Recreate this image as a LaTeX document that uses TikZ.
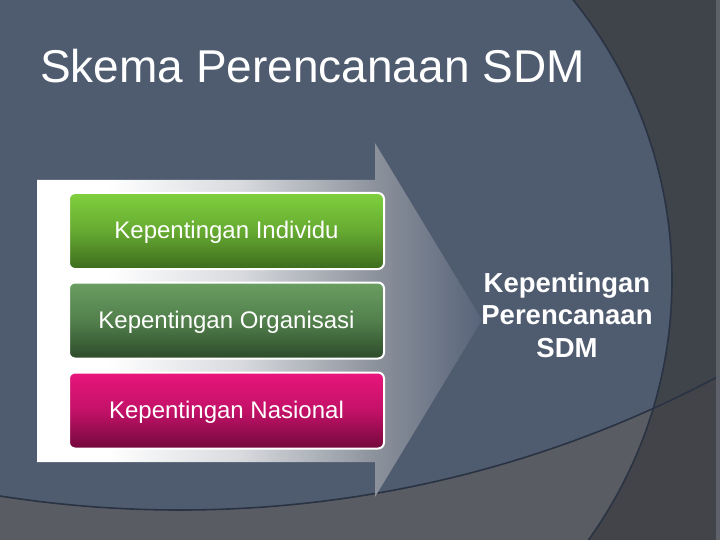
\documentclass[tikz,border=0pt]{standalone}
\usepackage{fontspec}
\setmainfont{Liberation Sans}
\definecolor{slate}{HTML}{4F5B6F}
\definecolor{darktop}{HTML}{3F434A}
\definecolor{darkbot}{HTML}{424449}
\definecolor{graybot}{HTML}{595C62}
\definecolor{edgeline}{HTML}{2A3344}
\definecolor{edgestrip}{HTML}{5E6169}
\definecolor{alight}{HTML}{D8DADE}
\definecolor{agray}{HTML}{8C929C}
\definecolor{atip}{HTML}{58647A}
\definecolor{g1top}{HTML}{7FD03E}
\definecolor{g1mid}{HTML}{66AA31}
\definecolor{g1bot}{HTML}{3D6B1E}
\definecolor{g2top}{HTML}{6A9E62}
\definecolor{g2mid}{HTML}{52804C}
\definecolor{g2bot}{HTML}{2D4A2A}
\definecolor{m3top}{HTML}{E8167B}
\definecolor{m3mid}{HTML}{C31168}
\definecolor{m3bot}{HTML}{72093B}
\pgfdeclarehorizontalshading{arrowshade}{100bp}{color(0bp)=(white); color(33bp)=(white); color(47.8bp)=(alight); color(63bp)=(agray); color(75bp)=(atip); color(100bp)=(atip)}
\tikzset{
  boxstyle/.style={draw=white, line width=2pt, rounded corners=6pt,
    minimum width=315pt, minimum height=76pt, inner sep=0pt,
    text height=17.5pt, text depth=1.5pt,
    text=white, font=\fontsize{24}{29}\selectfont},
  curveline/.style={draw=edgeline, line width=1.6pt}
}
\begin{document}
\begin{tikzpicture}[x=1pt,y=-1pt]
\useasboundingbox (0,0) rectangle (720,540);
% background layers
\fill[darkbot] (0,0) rectangle (720,540);
\begin{scope}
  \clip (180,-640) circle[radius=1150];
  \fill[darktop] (0,0) rectangle (720,540);
\end{scope}
\begin{scope}
  \clip (226,280) circle[radius=446];
  \fill[graybot] (0,0) rectangle (720,540);
  \clip (180,-640) circle[radius=1150];
  \fill[slate] (0,0) rectangle (720,540);
\end{scope}
\begin{scope}
  \clip (0,0) rectangle (716,540);
  \draw[curveline] (226,280) circle[radius=446];
  \draw[curveline] (180,-640) circle[radius=1150];
\end{scope}
\fill[edgestrip] (716,0) rectangle (720,540);
% title
\node[anchor=base west, inner sep=0pt, text=white, font=\fontsize{46}{55}\selectfont] (title) at (40,83) {Skema Perencanaan SDM};
% big arrow
\path[shading=arrowshade] (37,180) -- (375,180) -- (375,143) -- (482,320) -- (375,497) -- (375,462) -- (37,462) -- cycle;
% boxes
\node[boxstyle, top color=g1top, bottom color=g1bot, middle color=g1mid] (b1) at (226.5,231) {Kepentingan Individu};
\node[boxstyle, top color=g2top, bottom color=g2bot, middle color=g2mid] (b2) at (226.5,320.5) {Kepentingan Organisasi};
\node[boxstyle, top color=m3top, bottom color=m3bot, middle color=m3mid] (b3) at (226.5,410.5) {Kepentingan Nasional};
% result text
\node[inner sep=0pt, align=center, text=white, font=\fontsize{27.5}{32.5}\selectfont\bfseries] (res) at (567,315) {Kepentingan\\Perencanaan\\SDM};
\end{tikzpicture}
\end{document}
